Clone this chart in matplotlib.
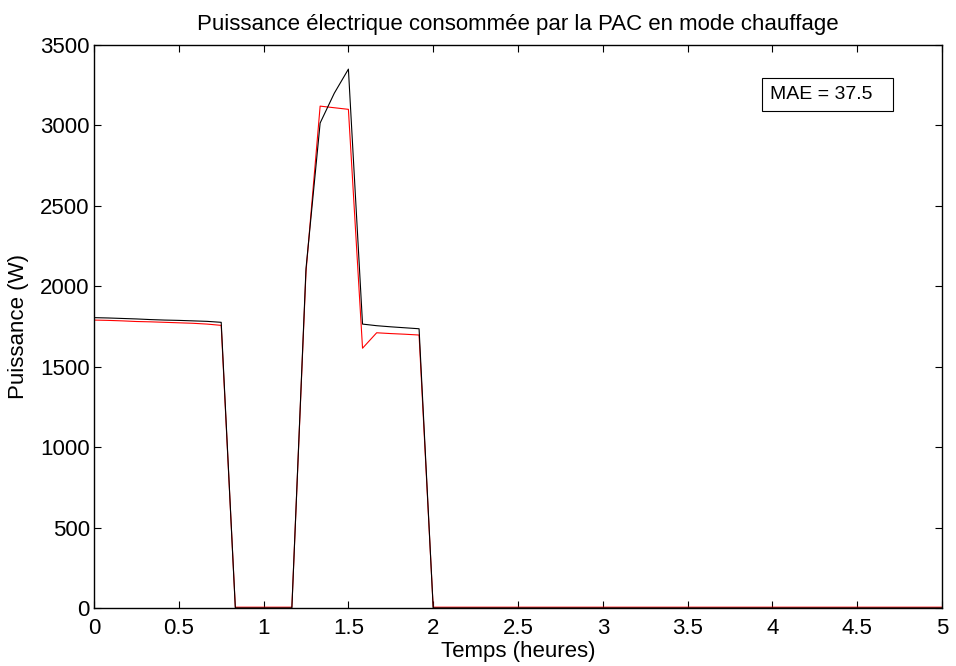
import matplotlib
matplotlib.use('Agg')
import matplotlib.pyplot as plt
from matplotlib.patches import Rectangle

plt.rcParams['font.family'] = ['Liberation Sans', 'DejaVu Sans']

# time grid (hours), 5 minute steps from 0 to 5 h
minutes = list(range(0, 301, 5))
hours = [m / 60 for m in minutes]

# measured power (black) and simulated power (red), W
measured = [1805, 1803, 1800, 1797, 1793, 1790, 1788, 1785, 1782, 1776,
            0, 0, 0, 0, 0,
            2110, 3015, 3200, 3350, 1765, 1755, 1748, 1742, 1736,
            0, 0, 0, 0, 0, 0, 0, 0, 0, 0, 0, 0, 0, 0, 0, 0, 0, 0, 0, 0,
            0, 0, 0, 0, 0, 0, 0, 0, 0, 0, 0, 0, 0, 0, 0, 0, 0]
simulated = [1790, 1788, 1785, 1781, 1779, 1776, 1773, 1770, 1765, 1757,
             5, 5, 5, 5, 5,
             2090, 3120, 3110, 3100, 1615, 1711, 1706, 1702, 1697,
             5, 5, 5, 5, 5, 5, 5, 5, 5, 5, 5, 5, 5, 5, 5, 5, 5, 5, 5, 5,
             5, 5, 5, 5, 5, 5, 5, 5, 5, 5, 5, 5, 5, 5, 5, 5, 5]

mae_text = 'MAE = 37.5'
title = 'Puissance électrique consommée par la PAC en mode chauffage'

fig = plt.figure(figsize=(9.56, 6.66), dpi=100)
ax = fig.add_axes([94 / 956, 1 - 608 / 666, (942 - 94) / 956, (608 - 45) / 666])

ax.plot(hours, simulated, color='red', lw=0.8)
ax.plot(hours, measured, color='black', lw=0.8)

ax.set_xlim(0, 5)
ax.set_ylim(0, 3500)
ax.set_xticks([0, 0.5, 1, 1.5, 2, 2.5, 3, 3.5, 4, 4.5, 5])
ax.set_xticklabels(['0', '0.5', '1', '1.5', '2', '2.5', '3', '3.5', '4', '4.5', '5'])
ax.set_yticks(range(0, 3501, 500))
ax.tick_params(direction='in', length=5, width=0.8, top=True, right=True,
               labelsize=16)
ax.tick_params(axis='x', pad=7)
ax.tick_params(axis='y', pad=3)
for s in ax.spines.values():
    s.set_linewidth(1.0)

ax.set_title(title, fontsize=16, pad=11)
ax.set_xlabel('Temps (heures)', fontsize=16, labelpad=2)
ax.set_ylabel('Puissance (W)', fontsize=16, labelpad=8)

# MAE annotation box
fig.patches.append(Rectangle((762 / 956, 1 - 111 / 666), 131 / 956, 33 / 666,
                             transform=fig.transFigure, facecolor='white',
                             edgecolor='black', lw=0.8))
fig.text(770 / 956, 1 - 94.5 / 666, mae_text, fontsize=14, va='center', ha='left')

fig.savefig('out.png', dpi=100)
